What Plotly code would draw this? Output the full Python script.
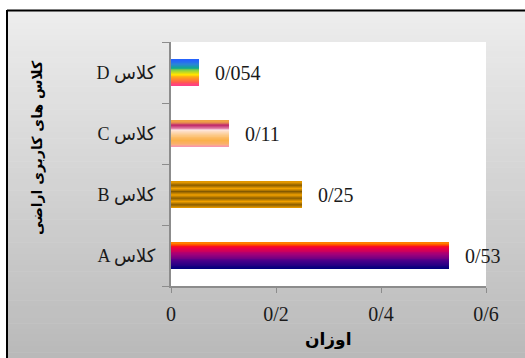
import plotly.graph_objects as go

# ---- data ----
categories = ["A", "B", "C", "D"]
tick_labels = ["A کلاس", "B کلاس", "C کلاس", "D کلاس"]
values = [0.53, 0.25, 0.11, 0.054]
value_labels = ["0/53", "0/25", "0/11", "0/054"]
x_tickvals = [0, 0.2, 0.4, 0.6]
x_ticktext = ["0", "0/2", "0/4", "0/6"]
x_title = "اوزان"
y_title = "کلاس های کاربری اراضی"

# ---- geometry (pixels) ----
W, H = 525, 358
ML, MR, MT, MB = 171, 39, 42, 72
PW, PH = W - ML - MR, H - MT - MB


def px2paper_x(px):
    return (px - ML) / PW


def px2paper_y(py):
    return (H - MB - py) / PH


def hex2rgb(h):
    h = h.lstrip("#")
    return tuple(int(h[i:i + 2], 16) for i in (0, 2, 4))


def lerp_stops(stops, f):
    for (f0, c0), (f1, c1) in zip(stops, stops[1:]):
        if f0 <= f <= f1:
            t = 0 if f1 == f0 else (f - f0) / (f1 - f0)
            a, b = hex2rgb(c0), hex2rgb(c1)
            return "rgb(%d,%d,%d)" % tuple(round(a[k] + (b[k] - a[k]) * t) for k in range(3))
    return stops[-1][1]


# gradient stops, bottom (0) -> top (1)
grad_A = [(0, "#00007c"), (0.3, "#48008a"), (0.55, "#a0007a"), (0.78, "#e80048"),
          (0.88, "#ff1414"), (0.95, "#ff5a00"), (1, "#ff9000")]
grad_B = [(0, "#f0a000"), (0.125, "#7c5400"), (0.25, "#f0a000"), (0.375, "#7c5400"),
          (0.5, "#f0a000"), (0.625, "#7c5400"), (0.75, "#f0a000"), (0.875, "#7c5400"),
          (1, "#f0a000")]
grad_C = [(0, "#f890b8"), (0.08, "#fab07c"), (0.25, "#fbb04a"), (0.45, "#fcc884"),
          (0.6, "#fde0cc"), (0.66, "#fff2f0"), (0.72, "#e07ca6"), (0.82, "#c02c6c"),
          (0.9, "#d46060"), (0.97, "#f0a048"), (1, "#f0a048")]
grad_D = [(0, "#ff3c8c"), (0.15, "#ff5a50"), (0.3, "#ff9a20"), (0.45, "#ffe400"),
          (0.58, "#90d040"), (0.7, "#10a890"), (0.82, "#2a84d8"), (1, "#2460ff")]
grads = [grad_A, grad_B, grad_C, grad_D]

fig = go.Figure()

BW = 0.43
K = 30
step = BW / K
for i in range(K):
    f = (i + 0.5) / K
    fig.add_trace(go.Bar(
        x=values, y=categories, orientation="h",
        width=step * 1.08, offset=-BW / 2 + i * step,
        marker=dict(color=[lerp_stops(g, f) for g in grads], line=dict(width=0)),
        hoverinfo="skip", showlegend=False,
    ))

# value labels
for v, c, t in zip(values, categories, value_labels):
    fig.add_annotation(x=v, y=c, xref="x", yref="y", text=t, showarrow=False,
                       xanchor="left", yanchor="middle", xshift=14,
                       font=dict(family="Liberation Serif", size=20, color="#1a1a1a"))

# background gradient + border
shapes = []
N = 60
top_px, bot_px, left_px = 11, H, 8
for j in range(N):
    y0 = top_px + (bot_px - top_px) * j / N
    y1 = top_px + (bot_px - top_px) * (j + 1) / N
    col = lerp_stops([(0, "#ededed"), (1, "#b9b9b9")], (j + 0.5) / N)
    shapes.append(dict(type="rect", xref="paper", yref="paper", layer="below",
                       x0=px2paper_x(left_px), x1=px2paper_x(W + 2),
                       y0=px2paper_y(y1 + 0.5), y1=px2paper_y(y0),
                       fillcolor=col, line=dict(width=0)))
shapes.append(dict(type="rect", xref="paper", yref="paper", layer="below",
                   x0=0, x1=1, y0=0, y1=1, fillcolor="white", line=dict(width=0)))
shapes.append(dict(type="line", xref="paper", yref="paper", layer="above",
                   x0=px2paper_x(7), x1=px2paper_x(W + 2),
                   y0=px2paper_y(10.5), y1=px2paper_y(10.5),
                   line=dict(color="black", width=2)))
shapes.append(dict(type="line", xref="paper", yref="paper", layer="above",
                   x0=px2paper_x(7), x1=px2paper_x(7),
                   y0=px2paper_y(10), y1=px2paper_y(H + 2),
                   line=dict(color="black", width=2)))

fig.add_annotation(xref="paper", yref="paper", x=px2paper_x(37), y=px2paper_y(148),
                   text="<b>" + y_title + "</b>", textangle=-90, showarrow=False,
                   xanchor="center", yanchor="middle",
                   font=dict(family="DejaVu Sans", size=14, color="black"))
fig.add_annotation(xref="paper", yref="paper", x=0.5, y=px2paper_y(339),
                   text="<b>" + x_title + "</b>", showarrow=False,
                   xanchor="center", yanchor="middle",
                   font=dict(family="DejaVu Sans", size=17, color="black"))

fig.update_layout(
    width=W, height=H,
    margin=dict(l=ML, r=MR, t=MT, b=MB, pad=0),
    paper_bgcolor="white", plot_bgcolor="white",
    barmode="overlay", bargap=0,
    shapes=shapes,
    xaxis=dict(range=[0, 0.6], tickvals=x_tickvals, ticktext=x_ticktext,
               showgrid=False, zeroline=False, showline=True, linecolor="#8c8c8c",
               linewidth=2, ticks="outside", ticklen=5, tickwidth=1, tickcolor="#8c8c8c",
               ticklabelstandoff=4,
               tickfont=dict(family="Liberation Serif", size=20, color="#1a1a1a"),
               fixedrange=True),
    yaxis=dict(type="category", categoryorder="array", categoryarray=categories,
               range=[-0.5, 3.5], tickvals=categories, ticktext=tick_labels,
               tickson="boundaries", showgrid=False, zeroline=False, showline=True,
               linecolor="#8c8c8c", linewidth=2, ticks="outside", ticklen=7,
               tickwidth=1, tickcolor="#8c8c8c", ticklabelstandoff=10,
               tickfont=dict(family="Liberation Serif, DejaVu Sans", size=18, color="#1a1a1a"),
               fixedrange=True),
)

fig.write_html("out.html")
